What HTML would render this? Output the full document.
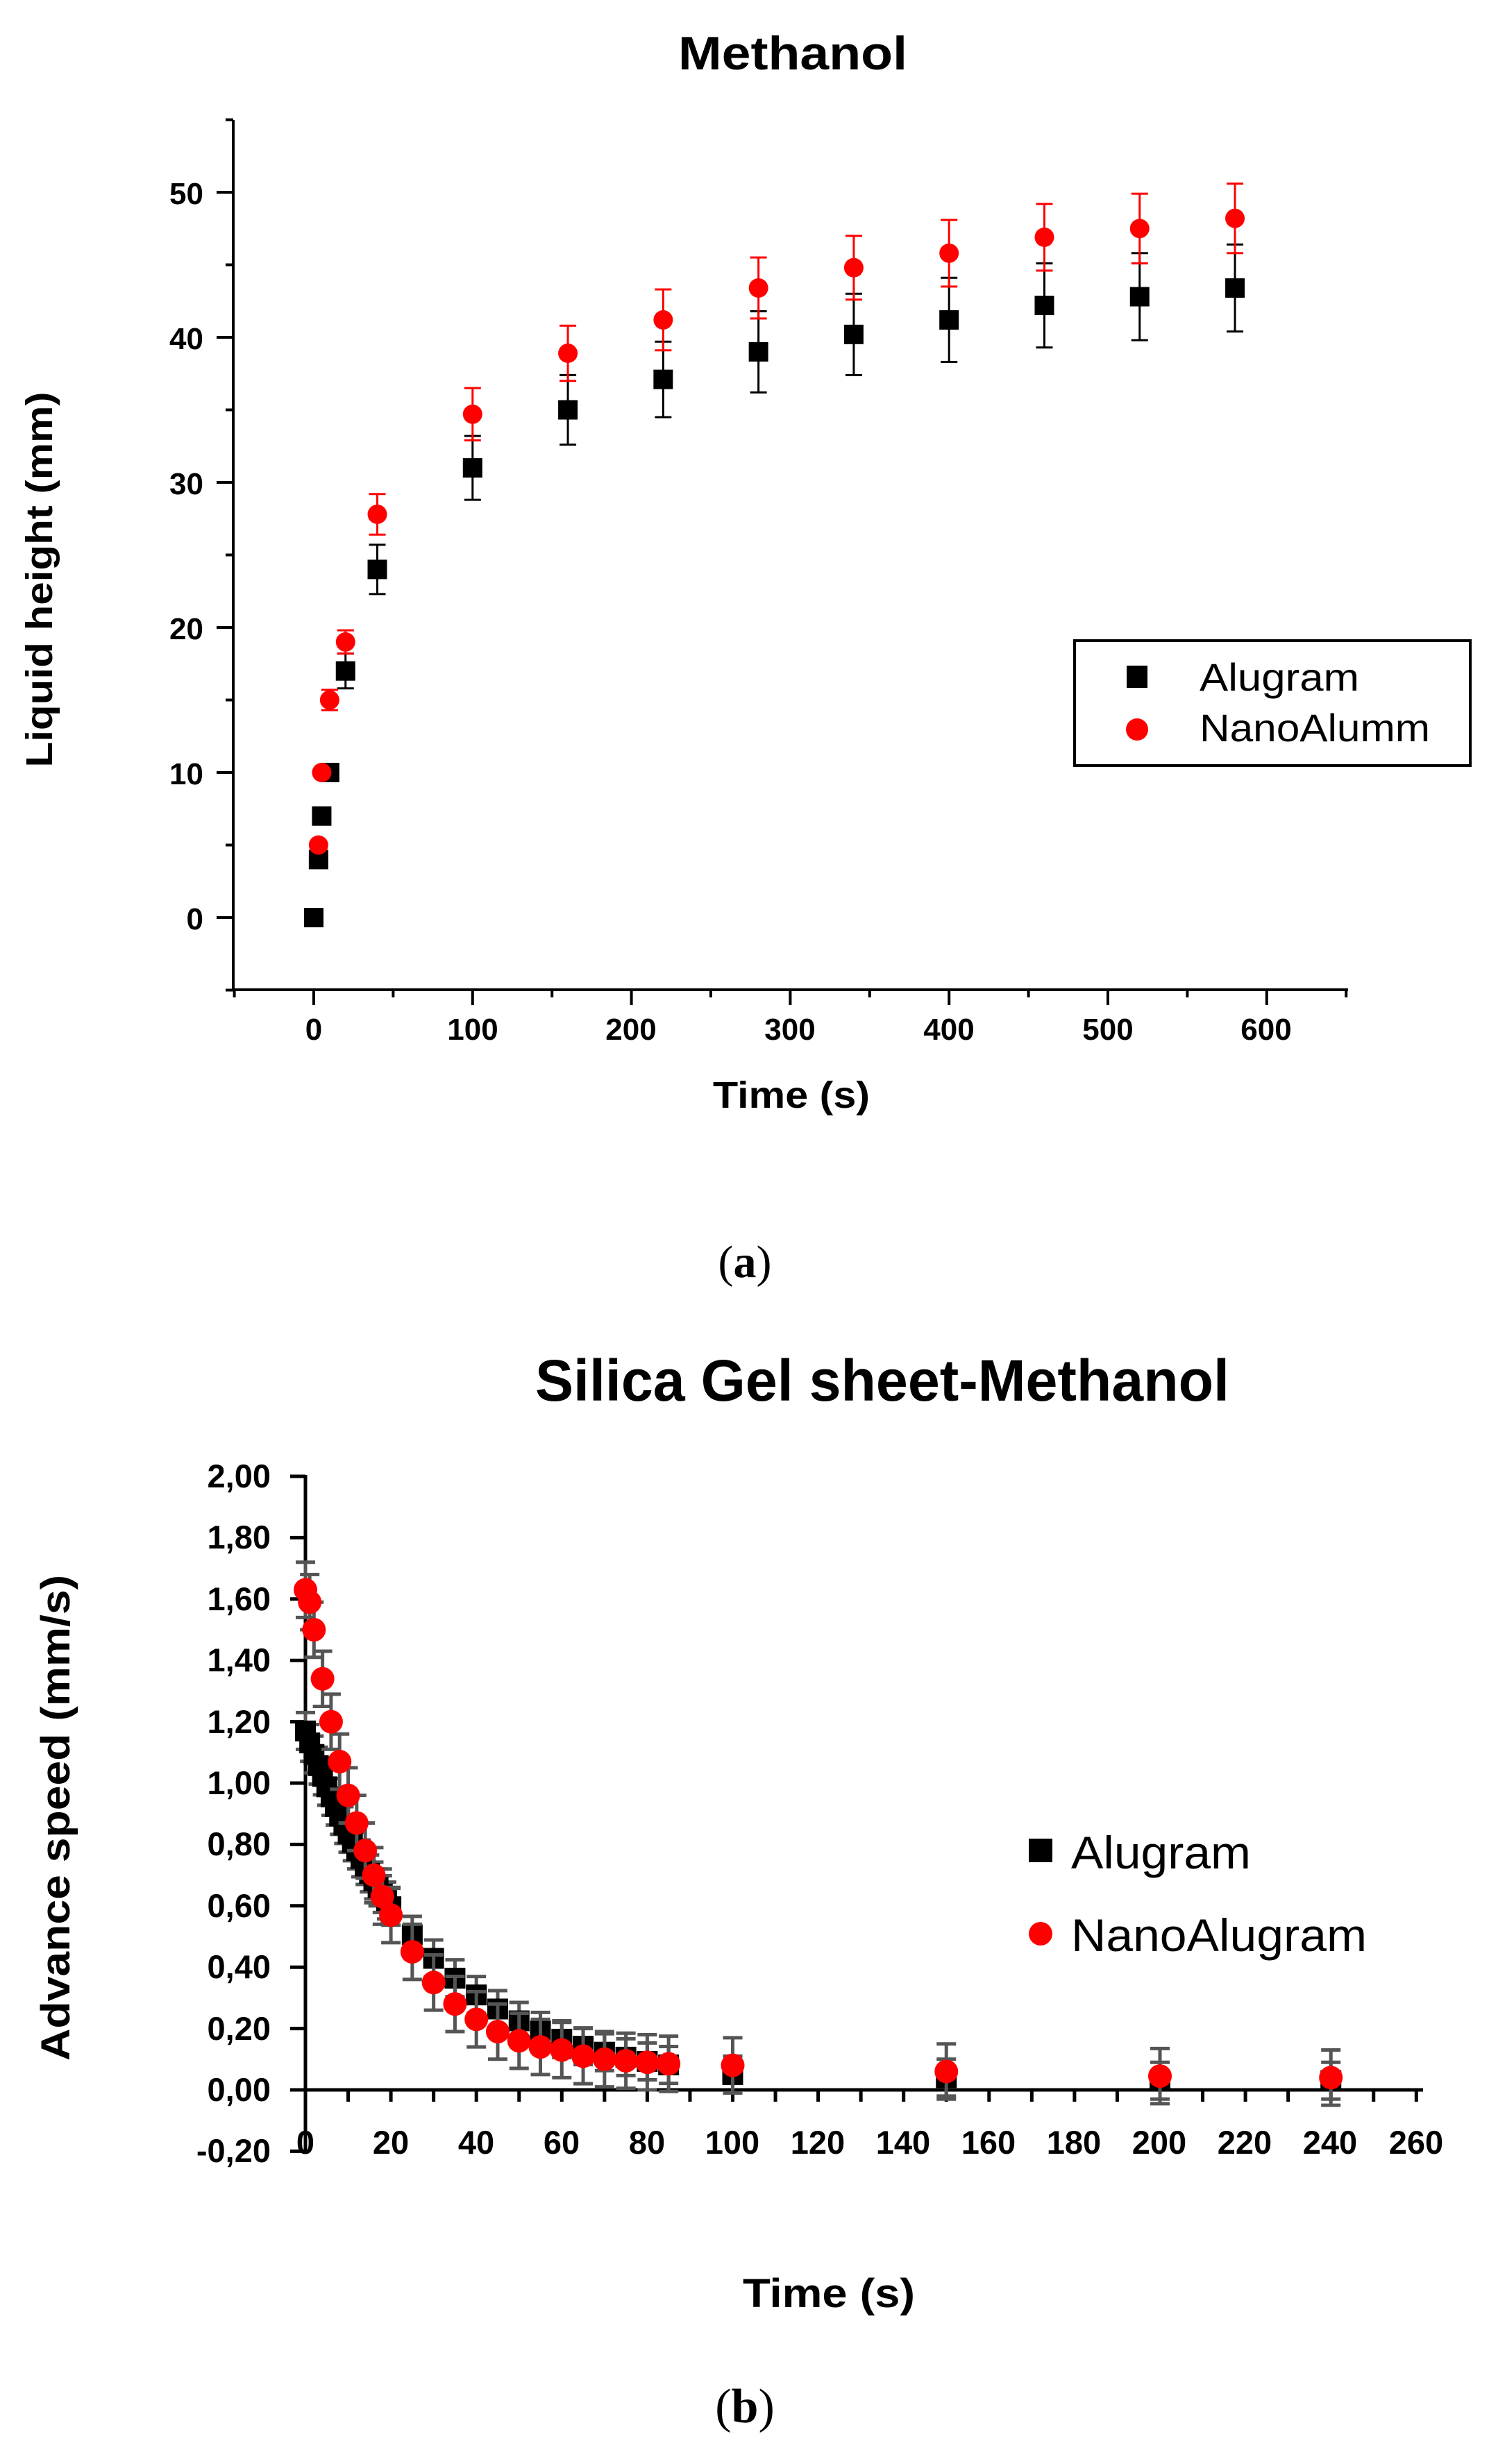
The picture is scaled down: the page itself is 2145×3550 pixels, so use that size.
<!DOCTYPE html>
<html><head><meta charset="utf-8"><style>
html,body{margin:0;padding:0;background:#fff;}
svg{display:block;}
</style></head><body>
<svg id="s" width="2145" height="3550" viewBox="0 0 2145 3550" xmlns="http://www.w3.org/2000/svg">
<rect width="2145" height="3550" fill="#fff"/>
<!-- Plot A -->
<text x="1142" y="100" font-family="Liberation Sans, sans-serif" font-weight="bold" font-size="68" text-anchor="middle" textLength="330" lengthAdjust="spacingAndGlyphs">Methanol</text>
<g stroke="#000" stroke-width="4" fill="none">
<line x1="336" y1="173" x2="336" y2="1428"/>
<line x1="334" y1="1426" x2="1942" y2="1426"/>
</g>
<g id="aticks" stroke="#000" stroke-width="4"></g>
<g font-family="Liberation Sans, sans-serif" font-weight="bold" font-size="44" text-anchor="end">
<text x="293" y="294">50</text>
<text x="293" y="503">40</text>
<text x="293" y="712">30</text>
<text x="293" y="921">20</text>
<text x="293" y="1130">10</text>
<text x="293" y="1339">0</text>
</g>
<g font-family="Liberation Sans, sans-serif" font-weight="bold" font-size="44" text-anchor="middle">
<text x="452" y="1498">0</text>
<text x="681" y="1498">100</text>
<text x="909" y="1498">200</text>
<text x="1138" y="1498">300</text>
<text x="1367" y="1498">400</text>
<text x="1596" y="1498">500</text>
<text x="1824" y="1498">600</text>
</g>
<text x="1140" y="1596" font-family="Liberation Sans, sans-serif" font-weight="bold" font-size="54" text-anchor="middle" textLength="226" lengthAdjust="spacingAndGlyphs">Time (s)</text>
<text transform="translate(75,835) rotate(-90)" font-family="Liberation Sans, sans-serif" font-weight="bold" font-size="54" text-anchor="middle" textLength="541" lengthAdjust="spacingAndGlyphs">Liquid height (mm)</text>
<g id="adata"></g>
<rect x="1548" y="923" width="570" height="180" fill="none" stroke="#000" stroke-width="4"/>
<rect x="1623" y="959" width="30" height="32" fill="#000"/>
<circle cx="1638" cy="1051" r="16" fill="#f00"/>
<g font-family="Liberation Sans, sans-serif" font-size="56">
<text x="1728" y="995" textLength="230" lengthAdjust="spacingAndGlyphs">Alugram</text>
<text x="1728" y="1068" textLength="332" lengthAdjust="spacingAndGlyphs">NanoAlumm</text>
</g>
<text x="1073" y="1840" font-family="Liberation Serif, serif" font-size="66" text-anchor="middle">(<tspan font-weight="bold">a</tspan>)</text>

<!-- Plot B -->
<text x="1271" y="2018" font-family="Liberation Sans, sans-serif" font-weight="bold" font-size="84" text-anchor="middle" textLength="1000" lengthAdjust="spacingAndGlyphs">Silica Gel sheet-Methanol</text>
<g stroke="#000" stroke-width="5" fill="none">
<line x1="440" y1="2125" x2="440" y2="3101"/>
<line x1="418" y1="3011" x2="2050" y2="3011"/>
</g>
<g id="bticks" stroke="#000" stroke-width="5"></g>
<g font-family="Liberation Sans, sans-serif" font-weight="bold" font-size="47" text-anchor="end">
<text x="390" y="2143">2,00</text>
<text x="390" y="2231">1,80</text>
<text x="390" y="2320">1,60</text>
<text x="390" y="2408">1,40</text>
<text x="390" y="2497">1,20</text>
<text x="390" y="2585">1,00</text>
<text x="390" y="2673">0,80</text>
<text x="390" y="2762">0,60</text>
<text x="390" y="2850">0,40</text>
<text x="390" y="2939">0,20</text>
<text x="390" y="3027">0,00</text>
<text x="390" y="3115">-0,20</text>
</g>
<g font-family="Liberation Sans, sans-serif" font-weight="bold" font-size="47" text-anchor="middle">
<text x="440" y="3103">0</text><text x="563" y="3103">20</text><text x="686" y="3103">40</text><text x="809" y="3103">60</text><text x="932" y="3103">80</text><text x="1055" y="3103">100</text><text x="1178" y="3103">120</text><text x="1301" y="3103">140</text><text x="1424" y="3103">160</text><text x="1547" y="3103">180</text><text x="1670" y="3103">200</text><text x="1793" y="3103">220</text><text x="1916" y="3103">240</text><text x="2040" y="3103">260</text>
</g>
<text x="1194" y="3324" font-family="Liberation Sans, sans-serif" font-weight="bold" font-size="58" text-anchor="middle" textLength="248" lengthAdjust="spacingAndGlyphs">Time (s)</text>
<text transform="translate(100,2619) rotate(-90)" font-family="Liberation Sans, sans-serif" font-weight="bold" font-size="58" text-anchor="middle" textLength="700" lengthAdjust="spacingAndGlyphs">Advance speed (mm/s)</text>
<g id="bdata"></g>
<rect x="1482" y="2649" width="34" height="34" fill="#000"/>
<circle cx="1499" cy="2786" r="17" fill="#f00"/>
<g font-family="Liberation Sans, sans-serif" font-size="66">
<text x="1543" y="2692" textLength="259" lengthAdjust="spacingAndGlyphs">Alugram</text>
<text x="1543" y="2811" textLength="426" lengthAdjust="spacingAndGlyphs">NanoAlugram</text>
</g>
<text x="1073" y="3490" font-family="Liberation Serif, serif" font-size="70" text-anchor="middle">(<tspan font-weight="bold">b</tspan>)</text>
</svg>
<script>
var NS="http://www.w3.org/2000/svg";
function el(p,t,a){var e=document.createElementNS(NS,t);for(var k in a)e.setAttribute(k,a[k]);p.appendChild(e);return e;}
// Plot A
var AX=function(t){return 452+2.288*t;},AY=function(v){return 1322-20.9*v;};
var at=document.getElementById('aticks');
for(var v=-5;v<=55;v+=5){var y=AY(v);var L=(v%10==0)?24:11;el(at,'line',{x1:336-L,y1:y,x2:336,y2:y});}
for(var t=-50;t<=650;t+=50){var x=AX(t);var L=(t%100==0)?22:11;el(at,'line',{x1:x,y1:1426,x2:x,y2:1426+L});}
var ad=document.getElementById('adata');
var alu=[[0,0,0],[3,4,0],[5,7,0],[10,10,0],[20,17,1.2],[40,24,1.7],[100,31,2.2],[160,35,2.4],[220,37.1,2.6],[280,39,2.8],[340,40.2,2.8],[400,41.2,2.9],[460,42.2,2.9],[520,42.8,3],[580,43.4,3]];
var nano=[[3,5,0],[5,10,0],[10,15,0.7],[20,19,0.8],[40,27.8,1.4],[100,34.7,1.8],[160,38.9,1.9],[220,41.2,2.1],[280,43.4,2.1],[340,44.8,2.2],[400,45.8,2.3],[460,46.9,2.3],[520,47.5,2.4],[580,48.2,2.4]];
function eb(g,x,y1,y2,c,w,cw){el(g,'line',{x1:x,y1:y1,x2:x,y2:y2,stroke:c,'stroke-width':w});el(g,'line',{x1:x-cw,y1:y1,x2:x+cw,y2:y1,stroke:c,'stroke-width':w});el(g,'line',{x1:x-cw,y1:y2,x2:x+cw,y2:y2,stroke:c,'stroke-width':w});}
alu.forEach(function(p){var x=AX(p[0]),y=AY(p[1]);if(p[2])eb(ad,x,AY(p[1]+p[2]),AY(p[1]-p[2]),'#000',3,12);el(ad,'rect',{x:x-14,y:y-14,width:28,height:28,fill:'#000'});});
nano.forEach(function(p){var x=AX(p[0]),y=AY(p[1]);if(p[2])eb(ad,x,AY(p[1]+p[2]),AY(p[1]-p[2]),'#f00',3,12);el(ad,'circle',{cx:x,cy:y,r:14,fill:'#f00'});});
// Plot B
var BX=function(t){return 440+6.155*t;},BY=function(v){return 3011-442*v;};
var bt=document.getElementById('bticks');
for(var i=-1;i<=10;i++){var y=BY(i*0.2);el(bt,'line',{x1:418,y1:y,x2:440,y2:y});}
for(var t=10;t<=260;t+=10){var x=BX(t);el(bt,'line',{x1:x,y1:3011,x2:x,y2:3028});}
var bd=document.getElementById('bdata');
var ta=[];for(var t=0;t<=20;t++)ta.push(t);for(var t=25;t<=85;t+=5)ta.push(t);
var aluB=ta.map(function(t){return [t,1.15*Math.exp(-t/29)+0.02];});
aluB.push([100,0.05],[150,0.04],[200,0.03],[240,0.03]);
var nanoB=[[0,1.63],[1,1.59],[2,1.50],[4,1.34],[6,1.20],[8,1.07],[10,0.96],[12,0.87],[14,0.78],[16,0.70],[18,0.63],[20,0.57],[25,0.45],[30,0.35],[35,0.28],[40,0.23],[45,0.19],[50,0.16],[55,0.14],[60,0.13],[65,0.11],[70,0.10],[75,0.095],[80,0.09],[85,0.085],[100,0.08],[150,0.06],[200,0.045],[240,0.04]];
aluB.forEach(function(p){var x=BX(p[0]);eb(bd,x,BY(p[1]+0.06),BY(p[1]-0.06),'#555',5,14);});
aluB.forEach(function(p){var x=BX(p[0]),y=BY(p[1]);el(bd,'rect',{x:x-15,y:y-15,width:30,height:30,fill:'#000'});});
nanoB.forEach(function(p){var x=BX(p[0]);eb(bd,x,BY(p[1]+0.09),BY(p[1]-0.09),'#555',5,14);});
nanoB.forEach(function(p){var x=BX(p[0]),y=BY(p[1]);el(bd,'circle',{cx:x,cy:y,r:17,fill:'#f00'});});
</script>
</body></html>
